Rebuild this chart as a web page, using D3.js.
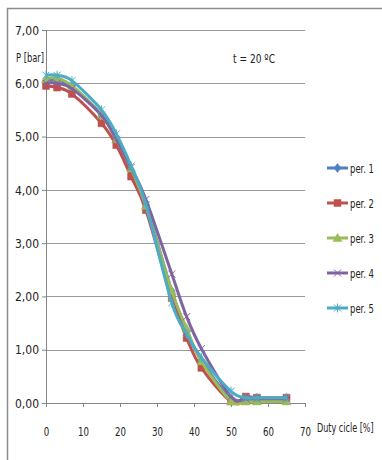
<!DOCTYPE html>
<html>
<head>
<meta charset="utf-8">
<script src="https://cdn.jsdelivr.net/npm/d3@7"></script>
<style>
  body { margin: 0; background: #fff; }
  text { font-family: "Liberation Sans Narrow", "DejaVu Sans Condensed", sans-serif; fill: #222; }
</style>
</head>
<body>
<div id="chart"></div>
<script>
// data
const dutyCycle = [0, 3, 7, 15, 19, 23, 27, 34, 38, 42, 50, 54, 57, 65];
const per1 = [6.05, 6.05, 5.95, 5.40, 4.95, 4.35, 3.72, 2.10, 1.35, 0.80, 0.08, 0.08, 0.08, 0.08];
const per2 = [5.95, 5.92, 5.80, 5.25, 4.84, 4.25, 3.62, 1.97, 1.22, 0.66, 0.03, 0.12, 0.10, 0.10];
const per3 = [6.08, 6.10, 5.95, 5.40, 4.95, 4.40, 3.70, 2.10, 1.40, 0.78, 0.03, 0.03, 0.03, 0.03];
const per4 = [6.00, 6.00, 5.90, 5.40, 4.95, 4.42, 3.82, 2.42, 1.62, 1.02, 0.12, 0.08, 0.08, 0.08];
const per5 = [6.15, 6.15, 6.05, 5.50, 5.05, 4.45, 3.72, 1.88, 1.30, 0.85, 0.22, 0.10, 0.10, 0.10];
const seriesNames = ["per. 1", "per. 2", "per. 3", "per. 4", "per. 5"];
const seriesColors = ["#4f81bd", "#c0504d", "#9bbb59", "#8064a2", "#4bacc6"];
const markerTypes = ["diamond", "square", "triangle", "cross", "star"];
const xTicks = [0, 10, 20, 30, 40, 50, 60, 70];
const yTicks = [0, 1, 2, 3, 4, 5, 6, 7];

const allSeries = [per1, per2, per3, per4, per5].map((vals, i) => ({
  name: seriesNames[i],
  color: seriesColors[i],
  marker: markerTypes[i],
  points: vals.map((v, j) => ({ x: dutyCycle[j], y: v }))
}));

const W = 382, H = 460;
const margin = { top: 30, right: 77, bottom: 57, left: 46 },
  width = W - margin.left - margin.right,
  height = H - margin.top - margin.bottom;

const svg = d3.select("#chart").append("svg")
  .attr("width", W)
  .attr("height", H);

// outer chart frame (right and bottom edges fall outside the picture)
svg.append("path")
  .attr("d", "M7.5," + H + "V8.5H" + W)
  .attr("fill", "none")
  .attr("stroke", "#8c8c8c")
  .attr("stroke-width", 1.5);

const group = svg.append("g")
  .attr("transform", `translate(${margin.left},${margin.top})`);

const xScale = d3.scaleLinear().domain([0, 70]).range([0, width]);
const yScale = d3.scaleLinear().domain([0, 7]).range([height, 0]);

const fmt = d => d3.format(".2f")(d).replace(".", ",");

// gridlines
group.append("g")
  .selectAll("line")
  .data(yTicks.slice(1))
  .join("line")
  .attr("x1", 0).attr("x2", width)
  .attr("y1", d => Math.round(yScale(d)) + 0.5)
  .attr("y2", d => Math.round(yScale(d)) + 0.5)
  .attr("stroke", "#999");

// axes
const yAxis = d3.axisLeft(yScale).tickValues(yTicks).tickFormat(fmt).tickSize(4).tickPadding(3);
const xAxis = d3.axisBottom(xScale).tickValues(xTicks).tickFormat(d3.format("d")).tickSize(4).tickPadding(20);

const yDisplay = group.append("g").attr("class", "axis").call(yAxis);
const xDisplay = group.append("g").attr("class", "axis")
  .attr("transform", `translate(0,${height})`).call(xAxis);

[yDisplay, xDisplay].forEach(ax => {
  ax.select(".domain").attr("stroke", "#868686");
  ax.selectAll(".tick line").attr("stroke", "#868686");
  ax.selectAll("text").style("font-size", "13px").attr("fill", "#222")
    .attr("lengthAdjust", "spacingAndGlyphs");
});
yDisplay.selectAll("text").attr("textLength", 24);
xDisplay.selectAll("text").attr("textLength", d => String(d).length * 5.5);

// marker shapes
function markerPath(type, s) {
  const h = s / 2;
  switch (type) {
    case "diamond": return `M0,${-h - 1}L${h},0L0,${h + 1}L${-h},0Z`;
    case "square": return `M${-h},${-h}H${h}V${h}H${-h}Z`;
    case "triangle": return `M0,${-h - 1}L${h + 1},${h}H${-h - 1}Z`;
    case "cross": return `M${-h},${-h}L${h},${h}M${h},${-h}L${-h},${h}`;
    case "star": return `M${-h},${-h}L${h},${h}M${h},${-h}L${-h},${h}M0,${-h - 1}V${h + 1}`;
  }
}
function drawMarker(sel, d) {
  const filled = d.marker !== "cross" && d.marker !== "star";
  sel.attr("d", markerPath(d.marker, 7))
    .attr("fill", filled ? d.color : "none")
    .attr("stroke", d.color)
    .attr("stroke-width", filled ? 0.5 : 1);
}

const line = d3.line()
  .x(d => xScale(d.x))
  .y(d => yScale(d.y))
  .curve(d3.curveCatmullRom.alpha(0));

allSeries.forEach(s => {
  const g = group.append("g");
  g.append("path")
    .datum(s.points)
    .attr("d", line)
    .attr("fill", "none")
    .attr("stroke", s.color)
    .attr("stroke-width", 3)
    .attr("stroke-linejoin", "round");
  g.selectAll("path.mk")
    .data(s.points)
    .join("path")
    .attr("class", "mk")
    .attr("transform", d => `translate(${xScale(d.x)},${yScale(d.y)})`)
    .each(function () { drawMarker(d3.select(this), s); });
});

// legend
const legend = svg.append("g").attr("transform", "translate(327,168)");
const item = legend.selectAll("g")
  .data(allSeries)
  .join("g")
  .attr("transform", (d, i) => `translate(0,${i * 35})`);
item.append("line")
  .attr("x1", 0).attr("x2", 21)
  .attr("stroke", d => d.color)
  .attr("stroke-width", 3);
item.append("path")
  .attr("transform", "translate(10.5,0)")
  .each(function (d) { drawMarker(d3.select(this), d); });
item.append("text")
  .attr("x", 23)
  .attr("dy", "0.35em")
  .style("font-size", "13px")
  .attr("textLength", 24)
  .attr("lengthAdjust", "spacingAndGlyphs")
  .text(d => d.name);

// titles
svg.append("text")
  .attr("x", 16).attr("y", 62)
  .style("font-size", "13px")
  .attr("textLength", 28)
  .attr("lengthAdjust", "spacingAndGlyphs")
  .text("P [bar]");
// narrow label squeezed with a transform so its box stays inside the picture
svg.append("text")
  .attr("transform", "translate(317,432) scale(0.69,1)")
  .style("font-size", "13px")
  .text("Duty cicle [%]");
svg.append("text")
  .attr("x", 233).attr("y", 63)
  .style("font-size", "13px")
  .attr("textLength", 42)
  .attr("lengthAdjust", "spacingAndGlyphs")
  .text("t = 20 ºC");
</script>
</body>
</html>
